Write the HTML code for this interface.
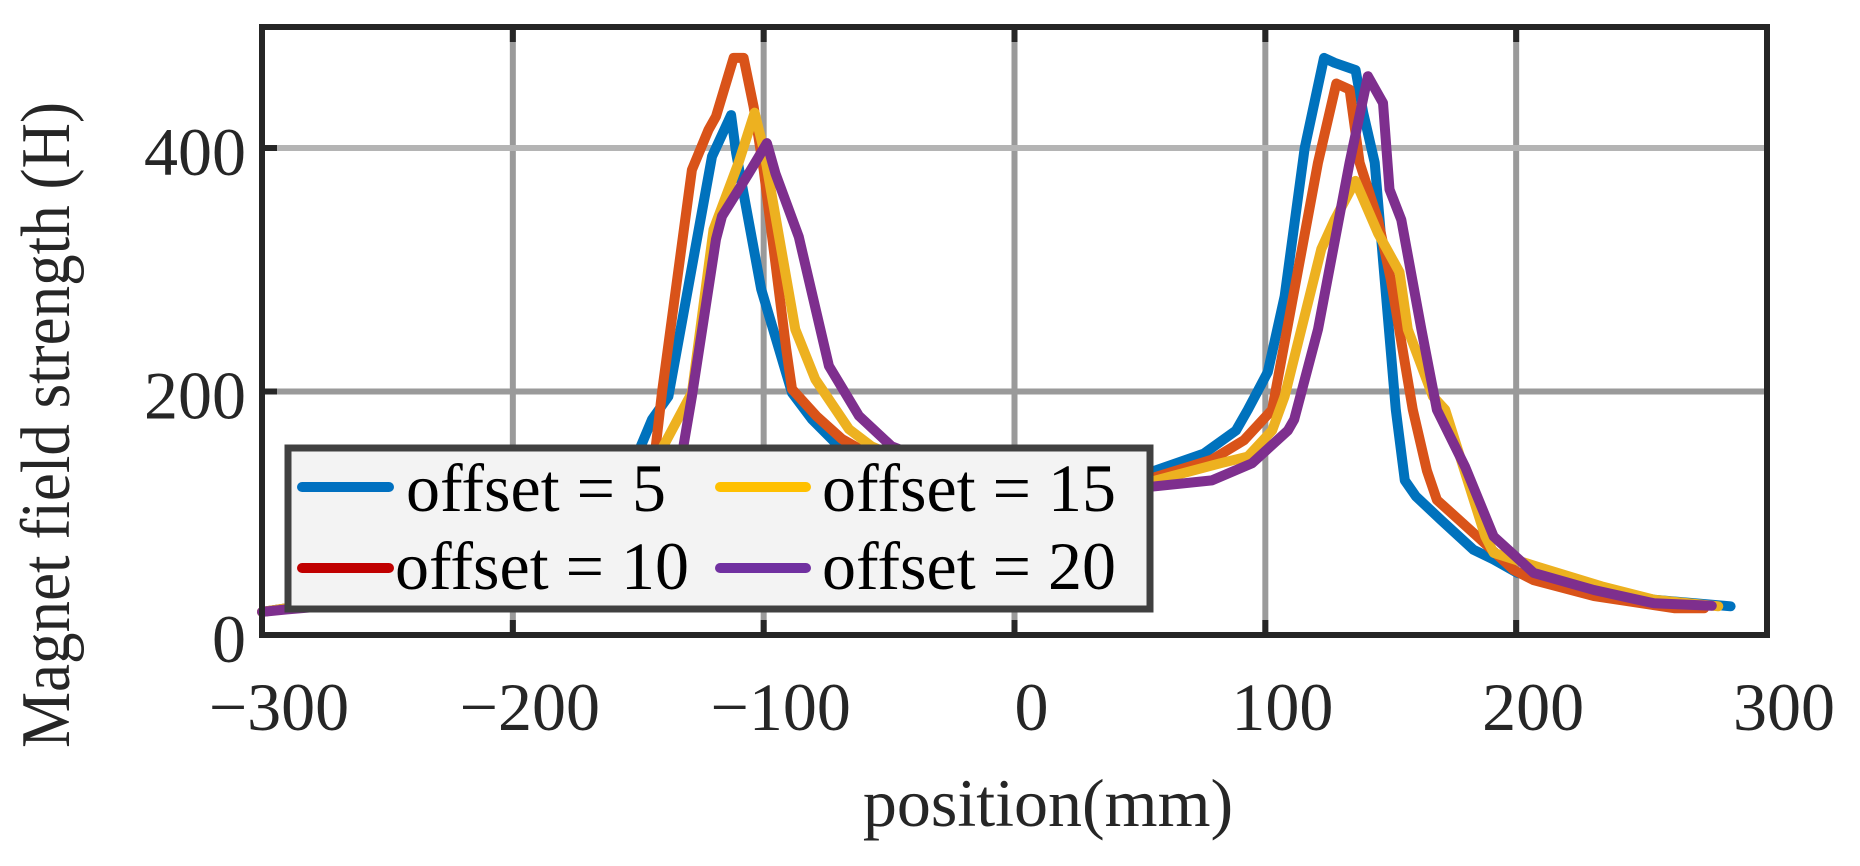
<!DOCTYPE html>
<html><head><meta charset="utf-8"><style>
html,body{margin:0;padding:0;background:#fff;}
svg{display:block;font-family:"Liberation Serif",serif;}
</style></head><body>
<svg id="chart" width="1860" height="866" viewBox="0 0 1860 866" xmlns="http://www.w3.org/2000/svg">
<rect x="0" y="0" width="1860" height="866" fill="#fff"/>
<g id="grid"></g>
<g id="series"></g>
<g id="frame"></g>
<g id="ticks"></g>
<text x="1048" y="826" font-size="68" fill="#262626" text-anchor="middle">position(mm)</text>
<text transform="translate(69,425) rotate(-90)" font-size="70" fill="#262626" text-anchor="middle" textLength="646" lengthAdjust="spacingAndGlyphs">Magnet field strength (H)</text>
<g>
<rect x="288" y="448" width="862" height="161" fill="#f3f3f3" stroke="#404040" stroke-width="7"/>
<g><line x1="302" y1="487" x2="389" y2="487" stroke="#0070C0" stroke-width="10" stroke-linecap="round"/><text x="406" y="511" font-size="68" fill="#000">offset = 5</text></g>
<g><line x1="720" y1="487" x2="806" y2="487" stroke="#FFC000" stroke-width="10" stroke-linecap="round"/><text x="822" y="511" font-size="68" fill="#000">offset = 15</text></g>
<g><line x1="302" y1="568" x2="389" y2="568" stroke="#C00000" stroke-width="10" stroke-linecap="round"/><text x="395" y="589" font-size="68" fill="#000">offset = 10</text></g>
<g><line x1="720" y1="568" x2="806" y2="568" stroke="#7030A0" stroke-width="10" stroke-linecap="round"/><text x="822" y="589" font-size="68" fill="#000">offset = 20</text></g>
</g>
</svg>
<script>
const xTicks = [-300,-200,-100,0,100,200,300];
const xTickLabels = ["\u2212300","\u2212200","\u2212100","0","100","200","300"];
const yTicks = [0,200,400];
const yTickLabels = ["0","200","400"];
const seriesNames = ["offset = 5","offset = 10","offset = 15","offset = 20"];
const x5 = [-300,-290,-250,-200,-170,-155,-149,-144.5,-138,-120.6,-113,-111,-101,-88.7,-80.7,-70,-55,-30,0,30,54.6,75.5,88.3,93,101,107.7,115.7,123.4,127.6,136,139,143.6,152,155.6,160,170,183,191,200.5,231,255,285.5];
const y5 = [19,22,30,45,70,120,155,177,196,393,427,396,284,199,177,155,140,128,122,125,134,149,168,185,216,278,400,474,470,464,429,388,185,127,114,94.5,70,62,51,37,29,23.6];
const x10 = [-300,-290,-250,-200,-170,-150,-143,-140.5,-128.6,-122,-119,-112,-108,-104,-100,-91,-88.7,-79,-68.8,-55,-30,0,30,54.6,78.7,91.5,102.7,121,128.3,133.6,137.6,144.9,150,158.8,164.4,168.4,184.5,199,207,231,263,275];
const y10 = [19,22,30,45,70,120,155,200,382,415,426,474,474,434,382,235,202,180,161,145,130,122,124,128.7,144,160,185,388,453,448,388,341,292,185,135,111,81,53.5,45,32,22,22];
const x15 = [-300,-290,-250,-200,-170,-150,-140,-128.6,-120,-110,-103.6,-100,-87.4,-79.4,-66,-57,-40,-20,0,30,54.6,82,93,102.7,107.7,122.3,127.6,135.9,144.9,153.5,156.8,166.8,171.7,187.7,191,208.5,234,255,280.6];
const y15 = [19,22,30,44,65,110,155,199,333,388,429,399,251,210,169,155,140,128,122,122,126,141,146.5,168,196,317,341,373,330,298,251,196,185,81,67.5,56,40,29,23.6];
const x20 = [-300,-290,-250,-200,-170,-150,-132,-128.6,-119,-116.6,-106,-98.7,-95.3,-86,-74,-62,-49,-30,0,30,54.6,78.7,94.7,109,111.5,121,133.6,140.9,146.9,149.5,154.2,162.2,168.4,179.7,191,207,231,255,278];
const y20 = [19,21,28,42,60,100,155,196,325,344,379,404,379,327,221,180,155,140,125,120,121.8,127,141,168,177,251,388,459,437,366,341,251,185,138,81,51,37,26,24];

const L=262,R=1767,T=27,B=635,XMIN=-300,XMAX=300,YMIN=0,YMAX=499.4;
function sx(v){return L+(v-XMIN)/(XMAX-XMIN)*(R-L);}
function sy(v){return B-(v-YMIN)/(YMAX-YMIN)*(B-T);}
const NS="http://www.w3.org/2000/svg";
function mk(tag,attrs,parent){const e=document.createElementNS(NS,tag);for(const k in attrs)e.setAttribute(k,attrs[k]);parent.appendChild(e);return e;}
const grid=document.getElementById('grid'),frame=document.getElementById('frame'),ticks=document.getElementById('ticks'),series=document.getElementById('series');
xTicks.forEach((t,i)=>{
  if(t>XMIN&&t<XMAX){
    const g=mk('line',{x1:sx(t),x2:sx(t),y1:T,y2:B,stroke:'#9a9a9a','stroke-width':6},grid);
    
    
    const a=mk('line',{x1:sx(t),x2:sx(t),y1:T,y2:T+15,stroke:'#262626','stroke-width':6},frame);
    
    
    const b=mk('line',{x1:sx(t),x2:sx(t),y1:B-15,y2:B,stroke:'#262626','stroke-width':6},frame);
    
    
  }
  const tx=mk('text',{x:sx(t)+17,y:730,'font-size':68,fill:'#262626','text-anchor':'middle'},ticks);
  tx.textContent=xTickLabels[i];
  
  
});
yTicks.forEach((t,i)=>{
  if(t>YMIN){
    const g=mk('line',{x1:L,x2:R,y1:sy(t),y2:sy(t),stroke:i===2?'#b4b4b4':'#9a9a9a','stroke-width':6},grid);
    
    
    const a=mk('line',{x1:L,x2:L+15,y1:sy(t),y2:sy(t),stroke:'#262626','stroke-width':6},frame);
    
    
  }
  const tx=mk('text',{x:246,y:sy(t)+27,'font-size':68,fill:'#262626','text-anchor':'end'},ticks);
  tx.textContent=yTickLabels[i];
  
  
});
const fr=mk('rect',{x:L,y:T,width:R-L,height:B-T,fill:'none',stroke:'#262626','stroke-width':6},frame);


const data=[[x5,y5,'#0072bd','line-offset-5'],[x10,y10,'#d95319','line-offset-10'],[x15,y15,'#edb120','line-offset-15'],[x20,y20,'#7e2f8e','line-offset-20']];
data.forEach(d=>{
  const pts=d[0].map((v,i)=>sx(v).toFixed(1)+','+sy(d[1][i]).toFixed(1)).join(' ');
  const p=mk('polyline',{points:pts,fill:'none',stroke:d[2],'stroke-width':10,'stroke-linejoin':'round','stroke-linecap':'round'},series);
  
  
});
</script>
</body></html>
